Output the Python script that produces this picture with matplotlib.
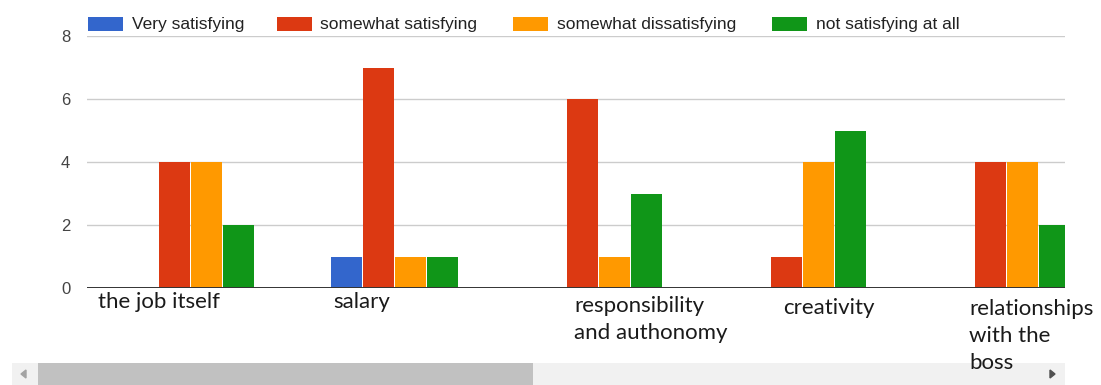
import matplotlib
matplotlib.use("Agg")
import matplotlib.pyplot as plt
from matplotlib.patches import Rectangle, Polygon

# ---- data -------------------------------------------------------------
categories = ["the job itself", "salary", "responsibility\nand authonomy",
              "creativity", "relationships\nwith the\nboss"]
series_names = ["Very satisfying", "somewhat satisfying",
                "somewhat dissatisfying", "not satisfying at all"]
very_satisfying = [0, 1, 0, 0, 0]
somewhat_satisfying = [4, 7, 6, 1, 4]
somewhat_dissatisfying = [4, 1, 1, 4, 4]
not_satisfying = [2, 1, 3, 5, 2]
y_ticks = [0, 2, 4, 6, 8]

# ---- styling ----------------------------------------------------------
colors = ["#3366cc", "#dc3912", "#ff9900", "#109618"]
W, H = 1101, 385
fig = plt.figure(figsize=(W / 100, H / 100), dpi=100)
fig.patch.set_facecolor("white")


def fx(px):
    return px / W


def fy(py):
    return 1 - py / H


ax = fig.add_axes([fx(87), fy(288), fx(1065) - fx(87), fy(36) - fy(288)])
ax.set_zorder(1)
ax.patch.set_alpha(0)
series = [very_satisfying, somewhat_satisfying, somewhat_dissatisfying, not_satisfying]
bar_w = 0.152
step = 0.157
x = list(range(len(categories)))
for k, (vals, col) in enumerate(zip(series, colors)):
    pos = [i + (k - 1.5) * step for i in x]
    ax.bar(pos, vals, width=bar_w, color=col, zorder=3, linewidth=0)

ax.set_xlim(-0.505, 4.287)
ax.set_ylim(0, 8)
ax.set_yticks(y_ticks)
ax.set_yticklabels([str(t) for t in y_ticks], fontsize=12,
                   color="#444444", fontfamily="Liberation Sans")
ax.tick_params(axis="y", length=0, pad=12)
ax.set_xticks([])
for s in ax.spines.values():
    s.set_visible(False)
ax.grid(axis="y", color="#cccccc", linewidth=1, zorder=0)
ax.axhline(0, color="#333333", linewidth=1.4, zorder=4)

# ---- legend across the top -------------------------------------------
legend_items = [(88, 132), (277, 320), (513, 557), (772, 816)]
for (px0, tx0), name, col in zip(legend_items, series_names, colors):
    fig.patches.append(Rectangle((fx(px0), fy(31)), fx(35), fy(17) - fy(31),
                                 transform=fig.transFigure, color=col,
                                 linewidth=0))
    fig.text(fx(tx0), fy(24), name, fontsize=12.5, color="#222222",
             fontfamily="Liberation Sans", va="center", ha="left")

# ---- category labels under each group --------------------------------
label_dx = [-0.45, -0.297, -0.117, -0.094, -0.181]
label_base = [308, 308, 312, 314, 315]
for i, (lab, dx, yb) in enumerate(zip(categories, label_dx, label_base)):
    # convert the data x position of each group into figure coordinates
    disp = ax.transData.transform((i + dx, 0))
    xf = fig.transFigure.inverted().transform(disp)[0]
    for j, line in enumerate(lab.split("\n")):
        fig.text(xf, fy(yb + 27 * j), line, fontsize=16, fontfamily="Lato",
                 color="#1a1a1a", ha="left", va="baseline", zorder=10)

# ---- horizontal scrollbar --------------------------------------------
fig.patches.append(Rectangle((fx(12), fy(385)), fx(1065 - 12), fy(363) - fy(385),
                             transform=fig.transFigure, color="#f1f1f1",
                             linewidth=0, zorder=-2))
fig.patches.append(Rectangle((fx(38), fy(385)), fx(533 - 38), fy(363) - fy(385),
                             transform=fig.transFigure, color="#c1c1c1",
                             linewidth=0, zorder=-1))
fig.patches.append(Polygon([(fx(21), fy(374)), (fx(26), fy(370)), (fx(26), fy(378))],
                           closed=True, transform=fig.transFigure,
                           color="#a3a3a3", zorder=-1))
fig.patches.append(Polygon([(fx(1055), fy(374)), (fx(1050), fy(370)), (fx(1050), fy(378))],
                           closed=True, transform=fig.transFigure,
                           color="#505050", zorder=-1))

fig.savefig("out.png", dpi=100)
